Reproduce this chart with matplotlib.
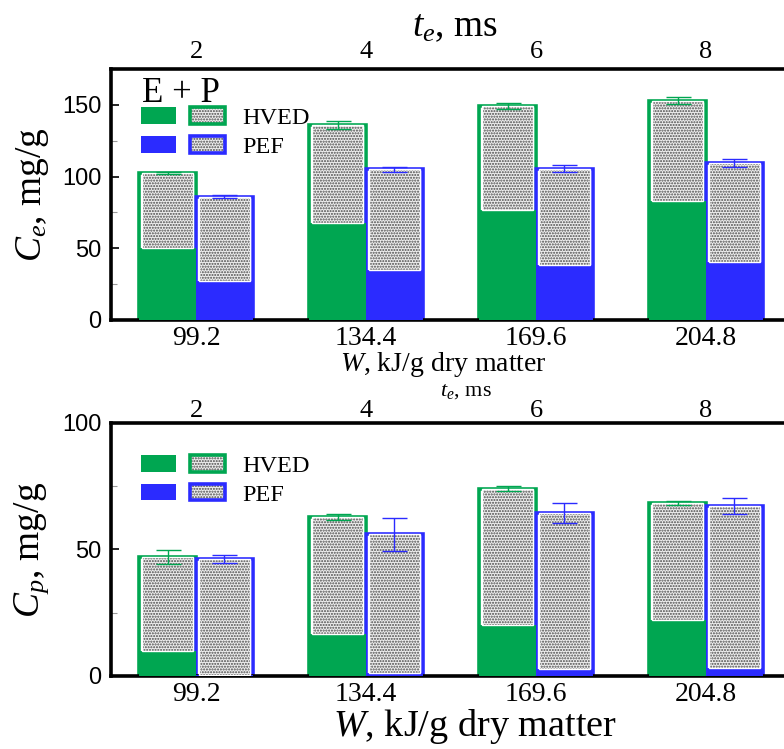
import matplotlib
matplotlib.use("Agg")
import matplotlib.pyplot as plt
import numpy as np
from matplotlib.patches import Patch
from matplotlib.legend_handler import HandlerTuple

plt.rcParams["font.family"] = "Liberation Serif"
plt.rcParams["mathtext.fontset"] = "custom"
plt.rcParams["mathtext.rm"] = "Liberation Serif"
plt.rcParams["mathtext.it"] = "Liberation Serif:italic"
plt.rcParams["hatch.color"] = "#4a4a4a"
plt.rcParams["hatch.linewidth"] = 1.0

W_LABELS = ["99.2", "134.4", "169.6", "204.8"]
TE_LABELS = ["2", "4", "6", "8"]

# C_e (top panel): total height, solid (E) part, error
CE_HVED_TOTAL = [102.5, 136, 149, 153]
CE_HVED_SOLID = [50, 67.5, 77, 83]
CE_HVED_ERR = [1.0, 3.0, 2.0, 2.5]
CE_PEF_TOTAL = [86, 105, 105.5, 109.5]
CE_PEF_SOLID = [27, 34.5, 38, 40.5]
CE_PEF_ERR = [1.0, 1.5, 2.5, 3.0]

# C_p (bottom panel)
CP_HVED_TOTAL = [47, 63, 74, 68.5]
CP_HVED_SOLID = [10, 16.5, 20, 22]
CP_HVED_ERR = [2.8, 1.2, 1.0, 0.8]
CP_PEF_TOTAL = [46.2, 56, 64.5, 67.2]
CP_PEF_SOLID = [0.3, 1.2, 2.8, 3.3]
CP_PEF_ERR = [1.5, 6.5, 4.0, 3.0]

GREEN = "#00a651"
BLUE = "#2b2bff"
HATCH_FACE = "#eeeeee"
BW = 0.333


def _stack(ax, xs, total, solid, err, color):
    total = np.asarray(total); solid = np.asarray(solid)
    ax.bar(xs, total, BW, color="white", edgecolor=color, linewidth=2.6, zorder=2)
    ax.bar(xs, solid, BW, color=color, edgecolor="none", zorder=3)
    ax.bar(xs, total - solid, BW * 0.9, bottom=solid, color=HATCH_FACE,
           edgecolor=None, hatch="......", linewidth=0, zorder=3)
    ax.bar(xs, total - solid, BW * 0.9, bottom=solid, fill=False,
           edgecolor="white", linewidth=1.0, zorder=4)
    ax.errorbar(xs, total, yerr=err, fmt="none", ecolor=color, elinewidth=1.0,
                capsize=9, capthick=1.0, zorder=5)


def _panel(ax, data, ymax, ylabel, wsize, wpos, tesize, tepos, toppad, leg_y, title=None):
    x = np.arange(len(W_LABELS))
    hv_t, hv_s, hv_e, pf_t, pf_s, pf_e = data
    _stack(ax, x - BW / 2, hv_t, hv_s, hv_e, GREEN)
    _stack(ax, x + BW / 2, pf_t, pf_s, pf_e, BLUE)
    ax.set_xlim(-0.5, 3.5)
    ax.set_ylim(0, ymax)
    for s in ["left", "top", "bottom"]:
        ax.spines[s].set_linewidth(2.6)
    ax.spines["right"].set_visible(False)
    ax.set_xticks(x)
    ax.set_xticklabels(W_LABELS, fontsize=20)
    ax.tick_params(axis="x", length=0, pad=4)
    ax.set_yticks(np.arange(0, ymax + 1, 50))
    ax.set_yticks(np.arange(25, ymax, 50), minor=True)
    ax.tick_params(axis="y", which="major", direction="in", length=6, width=1.2,
                   labelsize=17, labelfontfamily="Liberation Sans", pad=7)
    ax.tick_params(axis="y", which="minor", direction="in", length=4, width=0.8,
                   color="#999999")
    ax.set_ylabel(ylabel, fontsize=27, labelpad=8)
    ax.set_xlabel(r"$W$, kJ/g dry matter", fontsize=wsize)
    ax.xaxis.label.set_va("center")
    ax.xaxis.set_label_coords(*wpos)

    sec = ax.secondary_xaxis("top")
    sec.set_xticks(x)
    sec.set_xticklabels(TE_LABELS, fontsize=19)
    sec.tick_params(length=0, pad=toppad)
    sec.spines["top"].set_visible(False)
    sec.set_xlabel(r"$t_e$, ms", fontsize=tesize)
    sec.xaxis.label.set_va("center")
    sec.xaxis.set_label_coords(*tepos, transform=ax.transAxes)

    if title:
        ax.text(0.045, 0.97, title, transform=ax.transAxes, fontsize=25,
                ha="left", va="top")

    solid_g = Patch(facecolor=GREEN, edgecolor="none")
    solid_b = Patch(facecolor=BLUE, edgecolor="none")
    hatch_p = Patch(facecolor=HATCH_FACE, edgecolor=None, hatch="......", linewidth=0)
    out_g = Patch(fill=False, edgecolor=GREEN, linewidth=2.6)
    out_b = Patch(fill=False, edgecolor=BLUE, linewidth=2.6)
    ax.legend([(solid_g, hatch_p, solid_g, out_g), (solid_b, hatch_p, solid_b, out_b)],
              ["HVED", "PEF"],
              handler_map={tuple: HandlerTuple(ndivide=2, pad=0.6)},
              loc="upper left", bbox_to_anchor=(0.044, leg_y),
              frameon=False, fontsize=17.5, handlelength=3.45, handleheight=0.68,
              handletextpad=0.7, labelspacing=0.28, borderaxespad=0, borderpad=0)
    return ax


fig = plt.figure(figsize=(7.84, 7.49), dpi=100)
ax1 = fig.add_axes([0.1416, 0.5728, 0.8674, 0.3351])
ax2 = fig.add_axes([0.1416, 0.0975, 0.8674, 0.3378])

_panel(ax1, (CE_HVED_TOTAL, CE_HVED_SOLID, CE_HVED_ERR, CE_PEF_TOTAL, CE_PEF_SOLID, CE_PEF_ERR),
       175, r"$C_e$, mg/g", 20, (0.488, -0.179), 27, (0.506, 1.167), 4, 0.848,
       title="E + P")
_panel(ax2, (CP_HVED_TOTAL, CP_HVED_SOLID, CP_HVED_ERR, CP_PEF_TOTAL, CP_PEF_SOLID, CP_PEF_ERR),
       100, r"$C_p$, mg/g", 27.5, (0.535, -0.2), 16, (0.522, 1.123), 1, 0.873)

fig.savefig("out.png", dpi=100)
